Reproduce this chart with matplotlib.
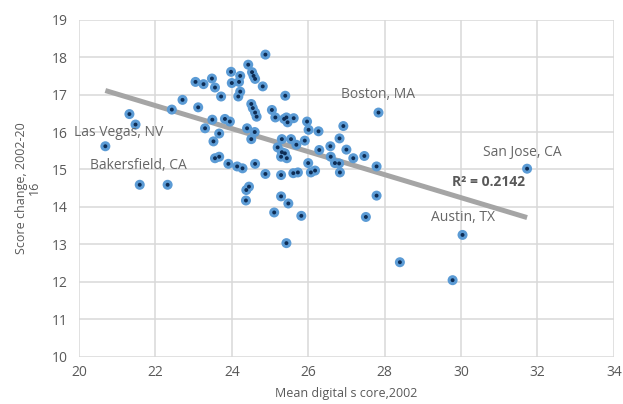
import numpy as np
import matplotlib
matplotlib.use("Agg")
import matplotlib.pyplot as plt

plt.rcParams['font.family'] = ['Open Sans', 'DejaVu Sans']

# Data
mean_score_2002 = [
    23.98, 24.43, 24.53, 24.57, 24.61, 24.22, 23.48, 23.05, 23.26, 23.56,
    24.00, 24.19, 24.22, 24.17, 23.72, 22.71, 23.12, 22.43, 24.51, 24.55,
    24.61, 24.65, 21.32, 21.48, 20.69, 23.49, 23.82, 23.95, 23.30, 23.67,
    23.52, 24.40, 24.60, 24.51, 23.56, 23.67, 23.91, 24.14, 24.28, 24.61,
    21.59, 22.32, 24.38, 24.45, 24.37, 24.88, 24.81, 25.40, 25.05, 25.14,
    25.37, 25.43, 25.46, 25.62, 25.97, 26.01, 26.27, 26.92, 27.84, 25.31,
    25.55, 25.69, 25.91, 25.20, 25.31, 25.39, 25.29, 25.44, 26.29, 26.58,
    26.82, 27.00, 27.18, 27.47, 27.79, 26.59, 26.70, 26.81, 26.83, 26.00,
    26.07, 26.18, 25.61, 25.73, 25.29, 24.88, 25.29, 27.79, 25.48, 25.11,
    25.82, 27.51, 25.43, 30.04, 28.40, 29.78, 31.73,
]
score_change = [
    17.61, 17.80, 17.60, 17.50, 17.42, 17.50, 17.43, 17.34, 17.28, 17.19,
    17.31, 17.34, 17.08, 16.95, 16.95, 16.86, 16.66, 16.60, 16.75, 16.64,
    16.52, 16.41, 16.48, 16.20, 15.62, 16.33, 16.35, 16.28, 16.10, 15.96,
    15.75, 16.10, 16.00, 15.81, 15.30, 15.34, 15.15, 15.08, 15.03, 15.15,
    14.59, 14.59, 14.45, 14.54, 14.17, 18.07, 17.22, 16.97, 16.59, 16.39,
    16.35, 16.39, 16.26, 16.37, 16.28, 16.06, 16.02, 16.16, 16.52, 15.81,
    15.81, 15.66, 15.77, 15.59, 15.46, 15.43, 15.34, 15.30, 15.52, 15.62,
    15.83, 15.53, 15.30, 15.36, 15.08, 15.34, 15.17, 15.16, 14.92, 15.17,
    14.92, 14.97, 14.90, 14.92, 14.85, 14.88, 14.28, 14.30, 14.09, 13.85,
    13.76, 13.73, 13.03, 13.25, 12.52, 12.04, 15.02,
]

city_labels = ["Las Vegas, NV", "Bakersfield, CA", "Boston, MA", "San Jose, CA", "Austin, TX"]
label_x = [19.87, 20.29, 26.86, 30.58, 29.21]
label_y = [16.0, 15.1, 17.0, 15.45, 13.71]

r2_text = "R² = 0.2142"
r2_pos = (29.76, 14.67)

x_ticks = [20, 22, 24, 26, 28, 30, 32, 34]
y_ticks = [10, 11, 12, 13, 14, 15, 16, 17, 18, 19]

x = np.array(mean_score_2002)
y = np.array(score_change)

fig = plt.figure(figsize=(6.23, 4.04), dpi=100)
ax = fig.add_axes([79/623, 1-356.5/404, (613.8-79)/623, (356.5-19.8)/404])

# linear trendline fitted to the data
coef = np.polyfit(x, y, 1)
tx = np.array([x.min(), x.max()])
ax.plot(tx, np.polyval(coef, tx), color='#A5A5A5', lw=3.6, solid_capstyle='butt', zorder=3)

ax.scatter(x, y, s=52, color='#5B9BD5', edgecolors='none', zorder=4)
ax.scatter(x, y, s=8, color='#0E2D55', edgecolors='none', zorder=5)

text_color = '#666666'
for lab, lx, ly in zip(city_labels, label_x, label_y):
    ax.text(lx, ly, lab, fontsize=10, color=text_color, ha='left', va='center', zorder=6)

ax.text(r2_pos[0], r2_pos[1], r2_text, fontsize=10, color='#595959', fontweight='bold',
        ha='left', va='center', zorder=6)

ax.set_xlim(20, 34)
ax.set_ylim(10, 19)
ax.set_xticks(x_ticks)
ax.set_yticks(y_ticks)
ax.grid(True, color='#D9D9D9', lw=1.1)
ax.set_axisbelow(True)
for s in ax.spines.values():
    s.set_visible(False)
ax.tick_params(axis='x', length=0, labelsize=10, labelcolor='#595959', pad=6)
ax.tick_params(axis='y', length=0, labelsize=10, labelcolor='#595959', pad=8)

ax.set_xlabel("Mean digital s core,2002", fontsize=9, color='#595959', labelpad=5)
ax.set_ylabel("Score change, 2002-20\n16", fontsize=9, color='#595959', labelpad=8, linespacing=1.0)

fig.savefig("out.png", dpi=100)
